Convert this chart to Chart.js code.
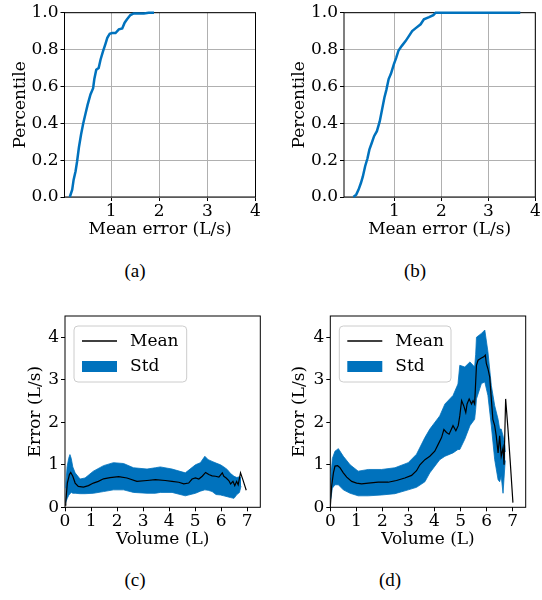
<!DOCTYPE html>
<html>
<head>
<meta charset="utf-8">
<script src="https://cdn.jsdelivr.net/npm/chart.js@4.4.1/dist/chart.umd.min.js"></script>
<style>
  body { margin: 0; background: #fff; }
  #wrap { position: relative; width: 542px; height: 600px; background: #fff; }
  canvas { position: absolute; }
  .cap { position: absolute; width: 60px; margin-left: -30px; text-align: center;
         font-family: "Liberation Serif", serif; font-size: 19px; color: #000; line-height: 22px; }
</style>
</head>
<body>
<div id="wrap">
  <canvas id="chartA" width="271" height="250" style="left:0px;top:0px"></canvas>
  <canvas id="chartB" width="271" height="250" style="left:271px;top:0px"></canvas>
  <canvas id="chartC" width="271" height="260" style="left:0px;top:300px"></canvas>
  <canvas id="chartD" width="271" height="260" style="left:271px;top:300px"></canvas>
  <div class="cap" style="left:135px;top:260px">(a)</div>
  <div class="cap" style="left:415px;top:260px">(b)</div>
  <div class="cap" style="left:135px;top:569px">(c)</div>
  <div class="cap" style="left:390px;top:569px">(d)</div>
</div>
<script>
// cdf (a)
var aErr = [0.14, 0.19, 0.22, 0.26, 0.29, 0.33, 0.375, 0.42, 0.465, 0.51, 0.57, 0.625, 0.65, 0.69, 0.74, 0.78, 0.83, 0.88, 0.92, 0.97, 1.02, 1.09, 1.16, 1.23, 1.28, 1.33, 1.40, 1.47, 1.68, 1.78, 1.89];
var aPct = [0, 0.04, 0.094, 0.14, 0.19, 0.27, 0.34, 0.40, 0.45, 0.50, 0.556, 0.59, 0.64, 0.69, 0.70, 0.746, 0.79, 0.83, 0.864, 0.886, 0.89, 0.89, 0.91, 0.915, 0.946, 0.964, 0.987, 0.996, 0.996, 1.0, 1.0];
// cdf (b)
var bErr = [0.13, 0.19, 0.24, 0.29, 0.33, 0.38, 0.43, 0.47, 0.52, 0.57, 0.63, 0.69, 0.74, 0.79, 0.83, 0.88, 0.93, 0.99, 1.04, 1.09, 1.16, 1.24, 1.31, 1.38, 1.45, 1.56, 1.63, 1.74, 1.83, 1.88, 3.68];
var bPct = [0, 0.013, 0.04, 0.076, 0.11, 0.167, 0.21, 0.257, 0.293, 0.33, 0.357, 0.41, 0.475, 0.54, 0.58, 0.64, 0.67, 0.72, 0.755, 0.795, 0.82, 0.846, 0.873, 0.90, 0.915, 0.937, 0.964, 0.976, 0.987, 1.0, 1.0];

// error vs volume (c)
var cMeanVol = [0, 0.03, 0.09, 0.17, 0.22, 0.30, 0.39, 0.51, 0.71, 0.90, 1.09, 1.28, 1.48, 1.73, 2.06, 2.38, 2.76, 3.15, 3.47, 3.85, 4.11, 4.37, 4.56, 4.75, 4.88, 5.01, 5.14, 5.27, 5.40, 5.52, 5.65, 5.78, 5.91, 6.04, 6.10, 6.19, 6.29, 6.36, 6.45, 6.52, 6.59, 6.65, 6.74, 6.83, 6.96];
var cMean = [0.05, 0.13, 0.57, 0.77, 0.82, 0.73, 0.57, 0.49, 0.475, 0.51, 0.57, 0.61, 0.67, 0.70, 0.72, 0.69, 0.61, 0.63, 0.65, 0.63, 0.61, 0.59, 0.55, 0.57, 0.665, 0.69, 0.665, 0.73, 0.82, 0.77, 0.74, 0.73, 0.71, 0.81, 0.73, 0.69, 0.63, 0.55, 0.61, 0.51, 0.61, 0.53, 0.81, 0.65, 0.40];
var cBandVol = [0.02, 0.08, 0.14, 0.19, 0.24, 0.30, 0.39, 0.58, 0.77, 1.09, 1.48, 1.86, 2.25, 2.63, 3.15, 3.47, 3.66, 4.11, 4.62, 5.01, 5.20, 5.37, 5.50, 5.65, 5.80, 5.97, 6.10, 6.23, 6.35, 6.49, 6.60, 6.70, 6.76];
var cUpper = [0.45, 0.95, 1.15, 1.24, 1.15, 0.95, 0.81, 0.665, 0.69, 0.85, 0.98, 1.05, 1.03, 0.93, 0.90, 0.93, 0.95, 0.90, 0.81, 1.0, 1.05, 1.2, 1.12, 1.08, 1.04, 1.0, 0.95, 0.89, 0.80, 0.73, 0.70, 0.72, 0.70];
var cLower = [0.10, 0.20, 0.28, 0.32, 0.35, 0.33, 0.33, 0.32, 0.32, 0.33, 0.37, 0.41, 0.41, 0.35, 0.33, 0.33, 0.35, 0.35, 0.27, 0.33, 0.38, 0.41, 0.40, 0.37, 0.30, 0.29, 0.27, 0.25, 0.23, 0.21, 0.30, 0.35, 0.50];

// error vs volume (d)
var dMeanVol = [0, 0.05, 0.12, 0.18, 0.28, 0.37, 0.50, 0.63, 0.82, 1.01, 1.20, 1.46, 1.84, 2.22, 2.54, 2.86, 3.12, 3.31, 3.44, 3.63, 3.82, 4.01, 4.14, 4.27, 4.36, 4.46, 4.56, 4.65, 4.71, 4.82, 4.91, 4.97, 5.04, 5.12, 5.20, 5.25, 5.33, 5.42, 5.48, 5.54, 5.61, 5.67, 5.80, 5.89, 5.95, 5.99, 6.05, 6.12, 6.18, 6.24, 6.31, 6.37, 6.44, 6.50, 6.56, 6.63, 6.67, 6.73, 6.82, 6.91, 7.01];
var dMean = [0, 0.49, 0.81, 0.97, 0.98, 0.93, 0.81, 0.71, 0.61, 0.57, 0.55, 0.57, 0.59, 0.59, 0.63, 0.69, 0.75, 0.86, 1.0, 1.12, 1.20, 1.32, 1.48, 1.64, 1.83, 1.76, 1.72, 1.84, 1.92, 1.80, 1.92, 2.15, 2.51, 2.39, 2.23, 2.43, 2.55, 2.43, 2.51, 2.43, 3.34, 3.46, 3.51, 3.54, 3.58, 3.38, 3.26, 3.06, 2.55, 2.07, 1.92, 1.68, 1.28, 1.68, 1.20, 1.40, 1.0, 2.55, 1.84, 1.04, 0.11];
var dBandVol = [0.02, 0.08, 0.18, 0.31, 0.50, 0.76, 1.07, 1.46, 1.97, 2.48, 2.99, 3.31, 3.63, 3.82, 4.20, 4.40, 4.71, 4.90, 4.97, 5.16, 5.36, 5.54, 5.58, 5.61, 5.80, 5.93, 6.05, 6.18, 6.31, 6.44, 6.50, 6.56, 6.63, 6.70, 6.72];
var dUpper = [0.70, 1.15, 1.32, 1.38, 1.20, 1.0, 0.85, 0.89, 0.89, 0.93, 1.05, 1.25, 1.64, 1.84, 2.15, 2.43, 2.63, 2.90, 3.34, 3.30, 3.42, 3.30, 3.60, 4.0, 4.09, 4.17, 3.66, 2.87, 2.39, 2.07, 1.84, 1.84, 1.68, 1.44, 1.30];
var dLower = [0.20, 0.45, 0.53, 0.53, 0.41, 0.33, 0.27, 0.27, 0.29, 0.32, 0.41, 0.47, 0.60, 0.81, 1.12, 1.20, 1.28, 1.36, 1.36, 1.60, 1.92, 2.07, 2.30, 2.55, 2.91, 2.95, 2.63, 1.92, 1.12, 0.65, 0.60, 0.73, 0.33, 0.97, 1.10];

// tick labels
var cdfTicksX = [1, 2, 3, 4];
var cdfTicksY = [0, 0.2, 0.4, 0.6, 0.8, 1.0];
var volTicksX = [0, 1, 2, 3, 4, 5, 6, 7];
var volTicksY = [0, 1, 2, 3, 4];

var blue = '#0072BD';

Chart.defaults.font.family = 'DejaVu Serif';
Chart.defaults.font.size = 17;
Chart.defaults.color = '#000';

function points(xs, ys){
  return xs.map(function(v, i){ return {x: v, y: ys[i]}; });
}

function setTicks(list){
  return function(scale){
    scale.ticks = list.map(function(v){ return {value: v}; });
  };
}

// black box round the plot area
var framePlugin = {
  id: 'frame',
  beforeDatasetsDraw: function(chart){
    var a = chart.chartArea;
    var ctx = chart.ctx;
    ctx.save();
    ctx.strokeStyle = '#000';
    ctx.lineWidth = 1;
    ctx.strokeRect(a.left, a.top, a.right - a.left, a.bottom - a.top);
    ctx.restore();
  }
};

// matplotlib style legend, top left inside the axes
var bandLegend = {
  id: 'bandLegend',
  afterDatasetsDraw: function(chart, args, opts){
    var a = chart.chartArea;
    var ctx = chart.ctx;
    var x = a.left + 9, y = a.top + 10, w = opts.width, h = 56, r = 4;
    var ds = chart.data.datasets;
    ctx.save();
    ctx.beginPath();
    ctx.moveTo(x + r, y);
    ctx.arcTo(x + w, y, x + w, y + h, r);
    ctx.arcTo(x + w, y + h, x, y + h, r);
    ctx.arcTo(x, y + h, x, y, r);
    ctx.arcTo(x, y, x + w, y, r);
    ctx.closePath();
    ctx.fillStyle = 'rgba(255,255,255,0.8)';
    ctx.fill();
    ctx.strokeStyle = '#cccccc';
    ctx.lineWidth = 1;
    ctx.stroke();
    // mean line sample
    ctx.beginPath();
    ctx.moveTo(x + 8, y + 15);
    ctx.lineTo(x + 43, y + 15);
    ctx.strokeStyle = '#000';
    ctx.lineWidth = 1.5;
    ctx.stroke();
    // std patch
    ctx.fillStyle = blue;
    ctx.fillRect(x + 8, y + 35, 35, 11);
    ctx.fillStyle = '#000';
    ctx.font = '17px "DejaVu Serif"';
    ctx.textBaseline = 'middle';
    ctx.fillText(ds[0].label, x + 56, y + 16);
    ctx.fillText(ds[1].label, x + 56, y + 41);
    ctx.restore();
  }
};

function axisX(min, max, ticks, title, fitH, grid){
  return {
    type: 'linear', min: min, max: max,
    afterBuildTicks: setTicks(ticks),
    afterFit: function(s){ s.height = fitH; },
    ticks: { padding: 0, maxRotation: 0, autoSkip: false },
    grid: { color: '#b0b0b0', lineWidth: 1, tickColor: '#000', tickLength: 4, drawOnChartArea: grid },
    border: { display: false },
    title: { display: true, text: title, padding: { top: 0, bottom: 10 } }
  };
}

function axisY(min, max, ticks, title, fitW, titlePad, fmt, grid){
  return {
    min: min, max: max,
    afterBuildTicks: setTicks(ticks),
    afterFit: function(s){ s.width = fitW; },
    ticks: { padding: 2, autoSkip: false, callback: fmt },
    grid: { color: '#b0b0b0', lineWidth: 1, tickColor: '#000', tickLength: 4, drawOnChartArea: grid },
    border: { display: false },
    title: { display: true, text: title, padding: { top: titlePad, bottom: 0 } }
  };
}

function makeCdfChart(id, errs, pcts, xmin, yW, rightPad, titlePad){
  new Chart(document.getElementById(id), {
    type: 'line',
    data: {
      datasets: [{
        data: points(errs, pcts),
        borderColor: blue,
        borderWidth: 2.5,
        pointRadius: 0,
        clip: false
      }]
    },
    options: {
      responsive: false,
      animation: false,
      layout: { padding: { top: 12.7, right: rightPad, bottom: 0, left: 0 } },
      plugins: { legend: { display: false }, tooltip: { enabled: false } },
      scales: {
        x: axisX(xmin, 4, cdfTicksX, 'Mean error (L/s)', 53, true),
        y: axisY(0, 1, cdfTicksY, 'Percentile', yW, titlePad, function(v){ return v.toFixed(1); }, true)
      }
    },
    plugins: [framePlugin]
  });
}

function makeBandChart(id, meanVol, mean, bandVol, upper, lower, yW, rightPad, titlePad, legendW){
  new Chart(document.getElementById(id), {
    type: 'line',
    data: {
      datasets: [{
        label: 'Mean',
        data: points(meanVol, mean),
        borderColor: '#000',
        borderWidth: 1.2,
        pointRadius: 0
      }, {
        label: 'Std',
        data: points(bandVol, upper),
        borderColor: blue,
        borderWidth: 0.8,
        backgroundColor: blue,
        pointRadius: 0,
        fill: '+1'
      }, {
        label: 'Std lower',
        data: points(bandVol, lower),
        borderColor: blue,
        borderWidth: 0.8,
        pointRadius: 0
      }]
    },
    options: {
      responsive: false,
      animation: false,
      layout: { padding: { top: 16, right: rightPad, bottom: 0, left: 0 } },
      plugins: { legend: { display: false }, tooltip: { enabled: false }, bandLegend: { width: legendW } },
      scales: {
        x: axisX(0, 7.5, volTicksX, 'Volume (L)', 52.7, false),
        y: axisY(0, 4.5, volTicksY, 'Error (L/s)', yW, titlePad, function(v){ return String(v); }, false)
      }
    },
    plugins: [framePlugin, bandLegend]
  });
}

makeCdfChart('chartA', aErr, aPct, 0.03, 64.5, 15.5, 10);
makeCdfChart('chartB', bErr, bPct, -0.07, 73, 6.7, 18);
makeBandChart('chartC', cMeanVol, cMean, cBandVol, cUpper, cLower, 65, 10.7, 25, 112.7);
makeBandChart('chartD', dMeanVol, dMean, dBandVol, dUpper, dLower, 59.3, 16.3, 18.3, 111.7);
</script>
</body>
</html>
